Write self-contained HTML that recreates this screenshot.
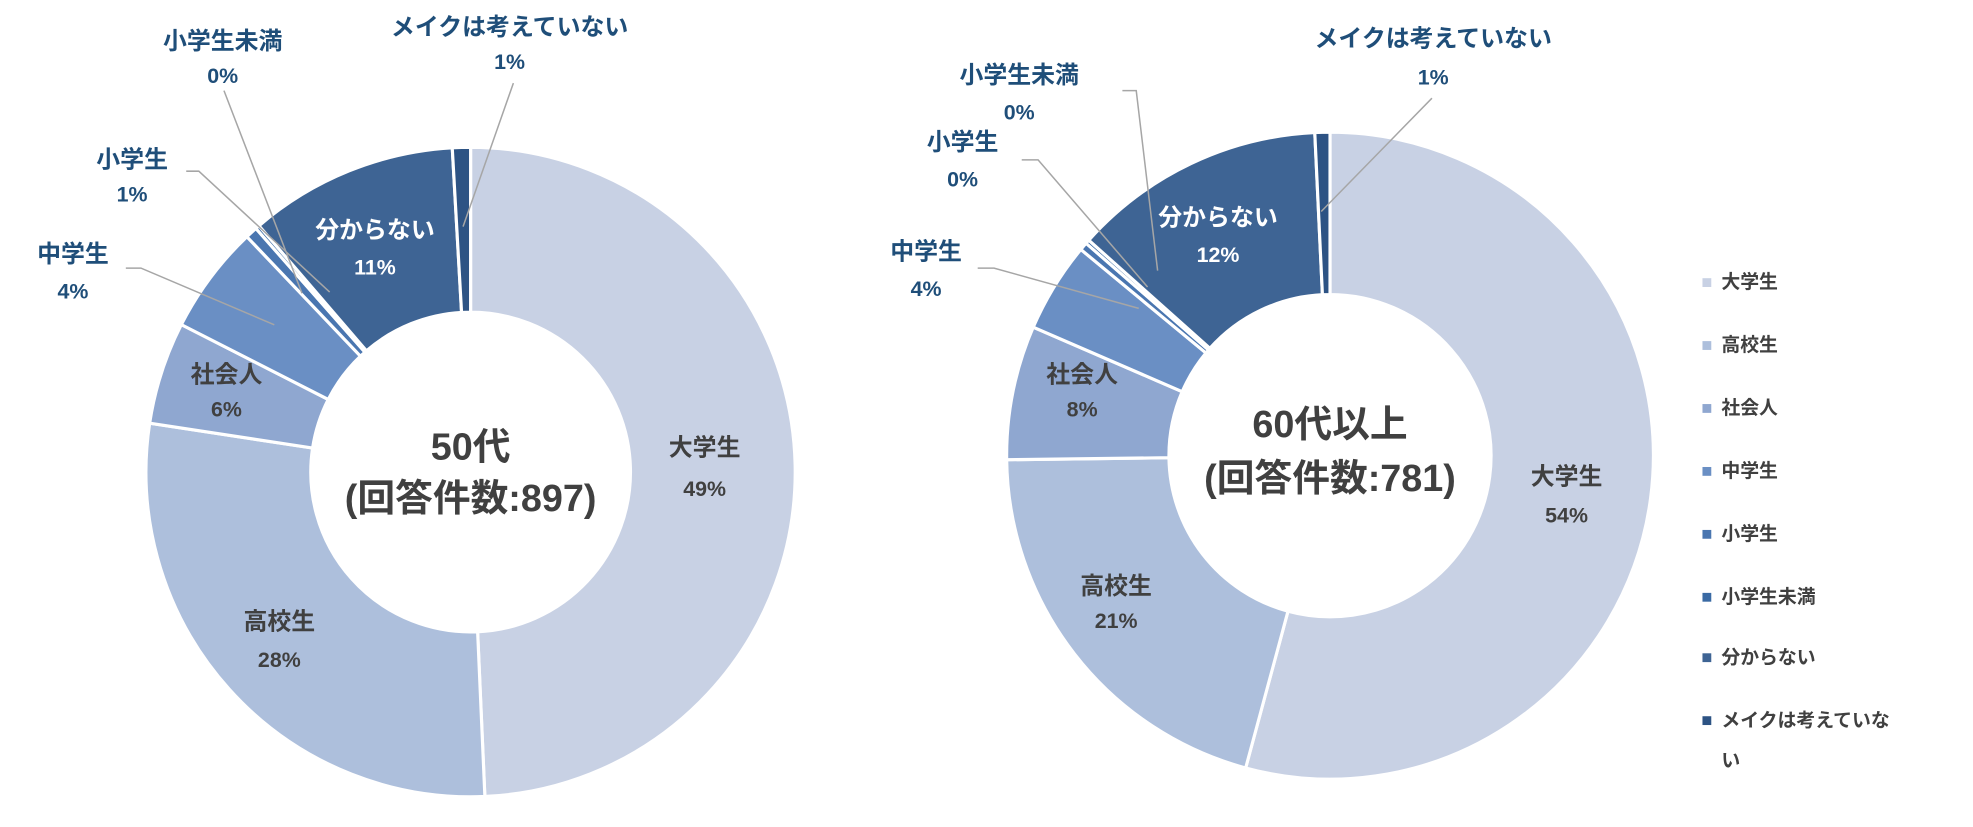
<!DOCTYPE html>
<html><head><meta charset="utf-8"><style>
html,body{margin:0;padding:0;background:#fff;width:1973px;height:827px;overflow:hidden}
svg{display:block}
text{font-family:"Liberation Sans","Noto Sans CJK JP",sans-serif;font-weight:bold;text-anchor:middle}
.o{fill:#1f4e79;font-size:19px}
.i{fill:#404040;font-size:19px}
.w{fill:#fff;font-size:19px}
.p{font-size:17px}
.c{fill:#404040;font-size:30px}
.l{fill:#404040;font-size:15px;text-anchor:start}
line,polyline{stroke:#a6a6a6;stroke-width:1.2;fill:none}
</style></head><body>
<svg id="s" width="1973" height="827" viewBox="0 0 1568 657" preserveAspectRatio="none">
<g id="d1"></g><g id="d2"></g>
<polyline points="178,72 240,233"/>
<polyline points="408,66 368,180"/>
<polyline points="148,136 158,136 262,232"/>
<polyline points="100,213 112,213 218,258"/>
<polyline points="1138,78 1050,168"/>
<polyline points="892,72 903,72 920,215"/>
<polyline points="812,127 825,127 912,228"/>
<polyline points="777,213 790,213 905,245"/>

<text class="o" x="177" y="39">小学生未満</text><text class="o p" x="177" y="66">0%</text>
<text class="o" x="405" y="28">メイクは考えていない</text><text class="o p" x="405" y="55">1%</text>
<text class="o" x="105" y="133">小学生</text><text class="o p" x="105" y="160">1%</text>
<text class="o" x="58" y="208">中学生</text><text class="o p" x="58" y="237">4%</text>
<text class="i" x="180" y="304">社会人</text><text class="i p" x="180" y="331">6%</text>
<text class="w" x="298" y="189">分からない</text><text class="w p" x="298" y="218">11%</text>
<text class="i" x="560" y="362">大学生</text><text class="i p" x="560" y="394">49%</text>
<text class="i" x="222" y="500">高校生</text><text class="i p" x="222" y="530">28%</text>
<text class="c" x="374" y="365">50代</text><text class="c" x="374" y="406">(回答件数:897)</text>

<text class="o" x="1139" y="37">メイクは考えていない</text><text class="o p" x="1139" y="67">1%</text>
<text class="o" x="810" y="66">小学生未満</text><text class="o p" x="810" y="95">0%</text>
<text class="o" x="765" y="119">小学生</text><text class="o p" x="765" y="148">0%</text>
<text class="o" x="736" y="206">中学生</text><text class="o p" x="736" y="235">4%</text>
<text class="i" x="860" y="304">社会人</text><text class="i p" x="860" y="331">8%</text>
<text class="w" x="968" y="179">分からない</text><text class="w p" x="968" y="208">12%</text>
<text class="i" x="1245" y="385">大学生</text><text class="i p" x="1245" y="415">54%</text>
<text class="i" x="887" y="472">高校生</text><text class="i p" x="887" y="499">21%</text>
<text class="c" x="1057" y="347">60代以上</text><text class="c" x="1057" y="390">(回答件数:781)</text>
<g id="lg"></g>
</svg>
<script>
var cols=["#c8d1e4","#adbfdc","#8fa7d0","#6a8fc4","#4a76b0","#3a6aa4","#3e6494","#2d5384"];
function donut(id,cx,cy,R,r,fr){
 var g=document.getElementById(id),a=0,h="";
 for(var i=0;i<fr.length;i++){
  var a0=a*2*Math.PI,a1=(a+fr[i])*2*Math.PI;a+=fr[i];
  var p=function(rad,t){return (cx+rad*Math.sin(t)).toFixed(2)+","+(cy-rad*Math.cos(t)).toFixed(2)};
  var lg=(a1-a0)>Math.PI?1:0;
  h+='<path d="M'+p(R,a0)+' A'+R+','+R+' 0 '+lg+' 1 '+p(R,a1)+' L'+p(r,a1)+' A'+r+','+r+' 0 '+lg+' 0 '+p(r,a0)+' Z" fill="'+cols[i]+'" stroke="#fff" stroke-width="2.5"/>';
 }
 g.innerHTML=h;
}
donut("d1",374,375,258,127,[0.493,0.281,0.051,0.054,0.006,0.002,0.104,0.009]);
donut("d2",1057,362,257,128,[0.542,0.206,0.067,0.045,0.004,0.002,0.1265,0.0075]);
var names=["大学生","高校生","社会人","中学生","小学生","小学生未満","分からない","メイクは考えていな"];
var ys=[228,278,328,378,428,478,526,576],h="";
for(var i=0;i<8;i++){h+='<rect x="1353" y="'+(ys[i]-7)+'" width="7" height="7" fill="'+cols[i]+'"/><text class="l" x="1368" y="'+(ys[i]+1)+'">'+names[i]+'</text>';}
h+='<text class="l" x="1368" y="609">い</text>';
document.getElementById("lg").innerHTML=h;
</script>
</body></html>
